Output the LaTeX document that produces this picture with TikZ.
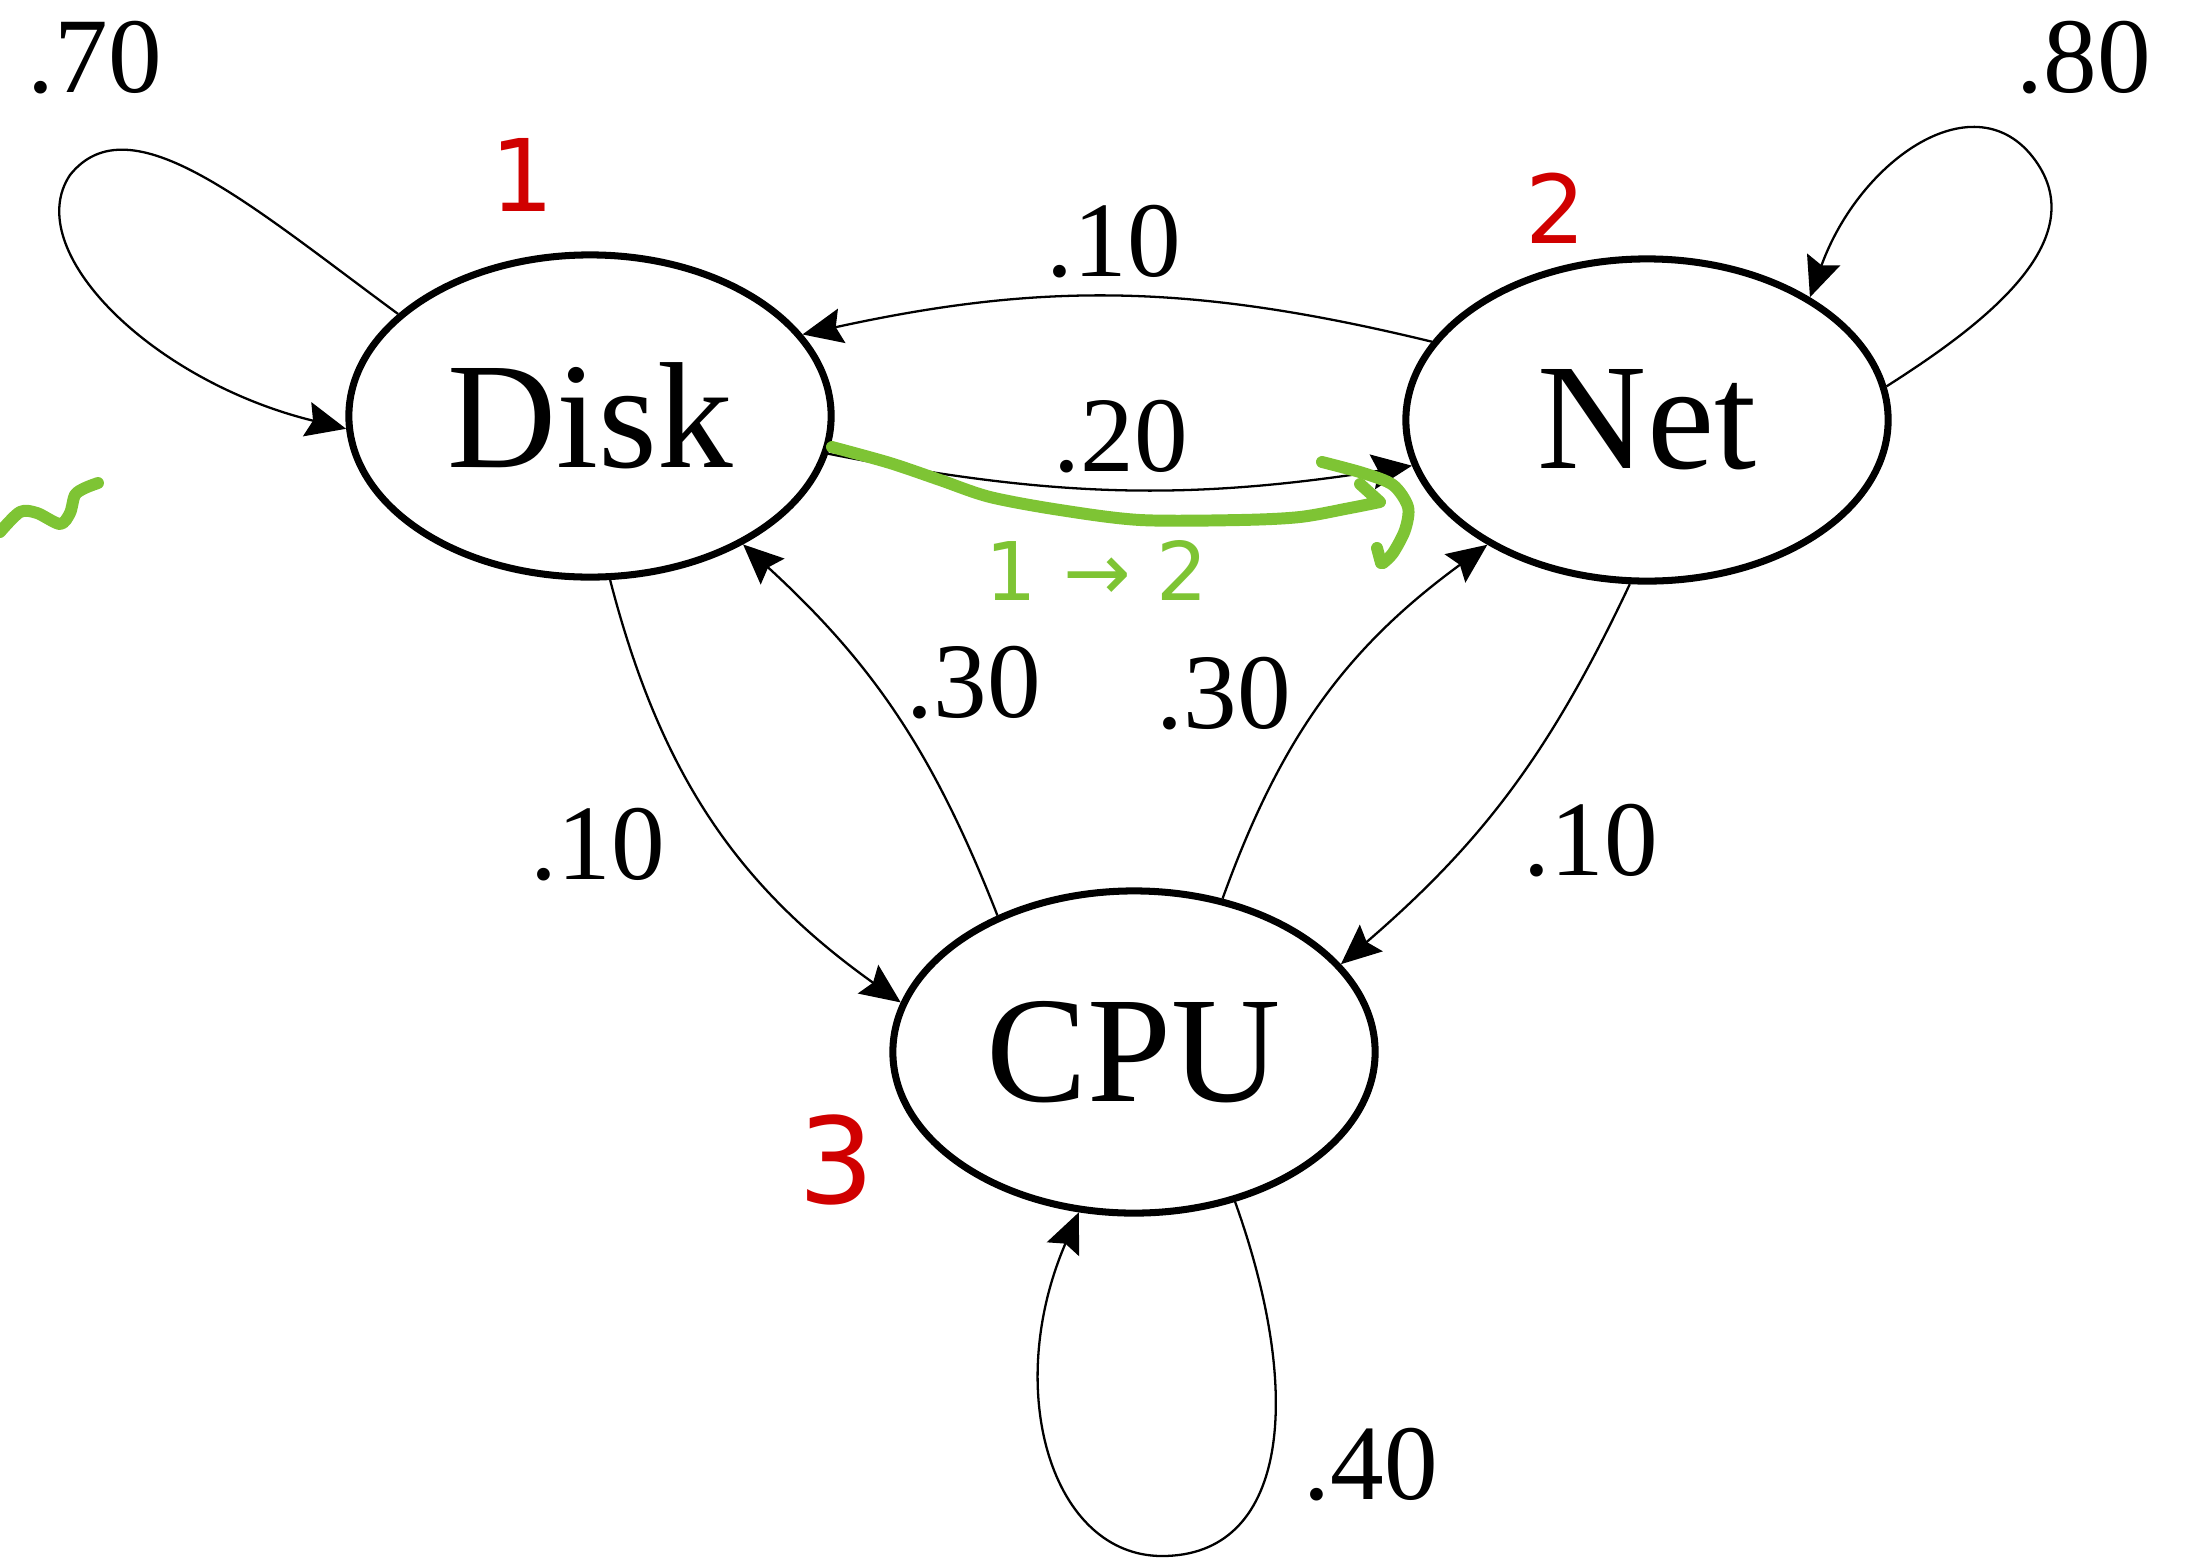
\documentclass[tikz,border=0pt]{standalone}
\usepackage{fontspec}
\setmainfont{Liberation Serif}
\newfontfamily\handfont{DejaVu Sans}
\usetikzlibrary{arrows.meta,shapes.geometric}
\definecolor{inkred}{RGB}{208,0,0}
\definecolor{inkgreen}{RGB}{126,196,52}
\begin{document}
\begin{tikzpicture}[x=0.01cm,y=-0.01cm,
  statenode/.style={ellipse,draw,line width=2pt,minimum width=4.82cm,minimum height=3.22cm,inner sep=0pt,font=\fontsize{43}{50}\selectfont},
  edge/.style={line width=0.65pt,-{Stealth[length=4mm,width=3.5mm,inset=0.6mm]}},
  lab/.style={inner sep=0pt,font=\fontsize{30.5}{36}\selectfont},
  redmark/.style={inner sep=0pt,text=inkred,font=\handfont},
  greenmark/.style={inner sep=0pt,text=inkgreen,font=\handfont},
  gpen/.style={draw=inkgreen,line width=3.4pt,line cap=round,line join=round}]
\useasboundingbox (0,0) rectangle (2197,1560);
% states
\node[statenode] (Disk) at (590,416) {Disk};
\node[statenode] (Net) at (1647,420) {Net};
\node[statenode] (CPU) at (1134,1052) {CPU};
% transitions
\draw[edge] (Disk.152) .. controls (250,205) and (130,100) .. (70,175) .. controls (20,250) and (151,381) .. (Disk.183);
\draw[edge] (Net.8) .. controls (1983,325) and (2094,241) .. (2035,160) .. controls (1976,79) and (1860,159) .. (Net.37);
\draw[edge] (CPU.-56) .. controls (1306,1400) and (1286,1556) .. (1162,1556) .. controls (1052,1556) and (1002,1391) .. (CPU.251.5);
\draw[edge] (Net.160) to[bend right=13] (Disk.21);
\draw[edge] (Disk.-9) to[bend right=10] (Net.191);
\draw[edge] (Disk.-83) to[bend right=20] (CPU.168);
\draw[edge] (CPU.135) to[bend right=13] (Disk.-40);
\draw[edge] (CPU.60) to[bend left=17] (Net.218);
\draw[edge] (Net.264) to[bend left=12] (CPU.23);
% labels
\node[lab] (l70) at (95,58) {.70};
\node[lab] (l80) at (2084,58) {.80};
\node[lab] (l10a) at (1114,242) {.10};
\node[lab] (l20) at (1121,437) {.20};
\node[lab] (l30a) at (974,683) {.30};
\node[lab] (l30b) at (1224,694) {.30};
\node[lab] (l10b) at (598,845) {.10};
\node[lab] (l10c) at (1591,841) {.10};
\node[lab] (l40) at (1371,1465) {.40};
% ink annotations
\node[redmark,font=\handfont\fontsize{28.5}{32}\selectfont] (r1) at (522,175) {1};
\node[redmark,font=\handfont\fontsize{27}{32}\selectfont] (r2) at (1556,208) {2};
\node[redmark,font=\handfont\fontsize{34}{40}\selectfont] (r3) at (837,1160) {3};
\node[greenmark,font=\handfont\fontsize{23}{28}\selectfont] (g12) at (1097,570) {1 → 2};
\draw[gpen] plot[smooth] coordinates {(0,532) (20,512) (37,513) (60,524) (70,513) (75,495) (85,488) (98,483)};
\draw[gpen] plot[smooth] coordinates {(832,447) (890,463) (940,480) (990,497) (1060,510) (1140,520) (1240,520) (1300,517) (1350,508) (1380,502)} -- (1360,484);
\draw[gpen] plot[smooth] coordinates {(1322,462) (1363,473) (1393,485) (1408,507) (1405,530) (1393,553) (1383,563)};
\draw[gpen] (1377,548) -- (1381,563);
\end{tikzpicture}
\end{document}
